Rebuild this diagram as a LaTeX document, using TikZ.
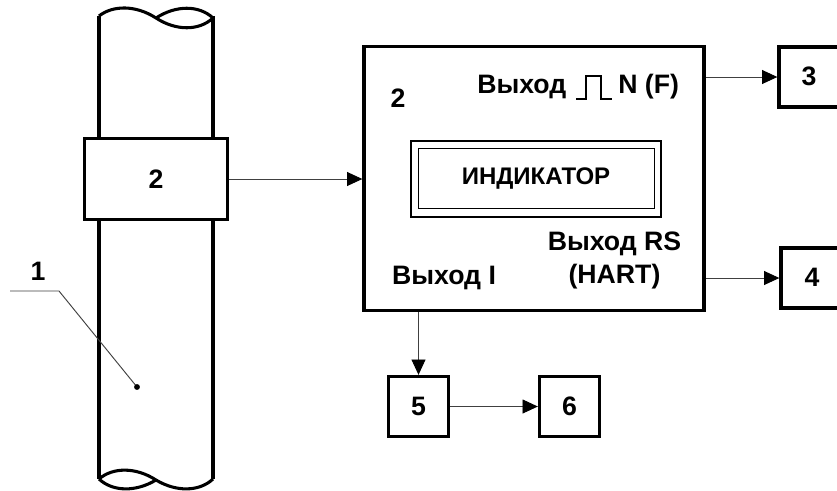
\documentclass[tikz,border=0pt]{standalone}
\usepackage{fontspec}
\setmainfont{Liberation Sans}
\usetikzlibrary{arrows.meta}
\tikzset{
  px/.style={x=0.75pt,y=-0.75pt},
  thick box/.style={draw=black,line width=2.5pt,fill=white,inner sep=0pt,font=\bfseries\fontsize{20}{24.75}\selectfont,text=black},
  lbl/.style={inner sep=0pt,font=\bfseries\fontsize{20}{24.75}\selectfont,text=black},
  pipe/.style={draw=black,line width=2.3pt},
  conn/.style={draw=black!75,line width=0.7pt,-{Triangle[length=11.5pt,width=10.5pt,black]}},
  thin/.style={draw=black!75,line width=0.7pt}
}
\begin{document}
\begin{tikzpicture}[px]
\useasboundingbox (0,0) rectangle (837,490);
\fill[white] (0,0) rectangle (837,490);
% pipe
\draw[pipe] (99,16) -- (99,479);
\draw[pipe] (213,16) -- (213,479);
\draw[pipe] (99,16) .. controls (113,5) and (136,5) .. (156,18) .. controls (176,31) and (199,31) .. (213,18);
\draw[pipe] (156,18) .. controls (176,5) and (199,5) .. (213,18);
\draw[pipe] (99,479) .. controls (113,467) and (136,467) .. (156,480) .. controls (176,492) and (199,492) .. (213,479);
\draw[pipe] (99,479) .. controls (113,492) and (136,492) .. (156,480);
% clamp sensor
\node[thick box,minimum width=143pt*0.75,minimum height=81pt*0.75] (clamp) at (156,179) {2};
% main box
\node[thick box,minimum width=340pt*0.75,minimum height=264pt*0.75] (main) at (534,178.5) {};
\node[lbl] (m2) at (398,98) {2};
\node[lbl,anchor=west] (outn) at (477,87) {Выход};
\node[lbl,anchor=west] (outf) at (618,87) {N (F)};
\draw[black,line width=0.8pt] (576,99) -- (586,99) -- (586,76) -- (601,76) -- (601,99) -- (612,99);
\node[draw=black,line width=1pt,minimum width=250pt*0.75,minimum height=76pt*0.75,inner sep=0pt] (ind) at (536,179) {};
\node[draw=black,line width=0.7pt,minimum width=236pt*0.75,minimum height=60pt*0.75,inner sep=0pt,lbl,font=\bfseries\fontsize{18}{22}\selectfont] (indin) at (536,178.5) {ИНДИКАТОР};
\node[lbl,align=center] (outrs) at (614.5,260) {Выход RS\\(HART)};
\node[lbl] (outi) at (444,278) {Выход I};
% small boxes (their right sides run off the page)
\node[thick box,minimum width=90pt*0.75,minimum height=60pt*0.75] (b3) at (824,77) {};
\node[thick box,minimum width=90pt*0.75,minimum height=60pt*0.75] (b4) at (826,278) {};
\node[lbl] (t3) at (809,76) {3};
\node[lbl] (t4) at (812,277) {4};
\node[thick box,minimum width=60pt*0.75,minimum height=60pt*0.75] (b5) at (418.5,406.5) {5};
\node[thick box,minimum width=60pt*0.75,minimum height=60pt*0.75] (b6) at (569.5,406.5) {6};
% connectors
\draw[conn] (clamp.east) -- (clamp.east -| main.west);
\draw[conn] (main.east |- b3.west) -- (b3.west);
\draw[conn] (main.east |- b4.west) -- (b4.west);
\draw[conn] (main.south -| b5.north) -- (b5.north);
\draw[conn] (b5.east) -- (b6.west);
% leader
\coordinate (l0) at (10,291);
\coordinate (l1) at (59,291);
\coordinate (l2) at (137,387);
\draw[thin] (l0) -- (l1) -- (l2);
\fill[black] (l2) circle (2.2pt);
\node[lbl] (n1) at (38,271) {1};
\end{tikzpicture}
\end{document}
